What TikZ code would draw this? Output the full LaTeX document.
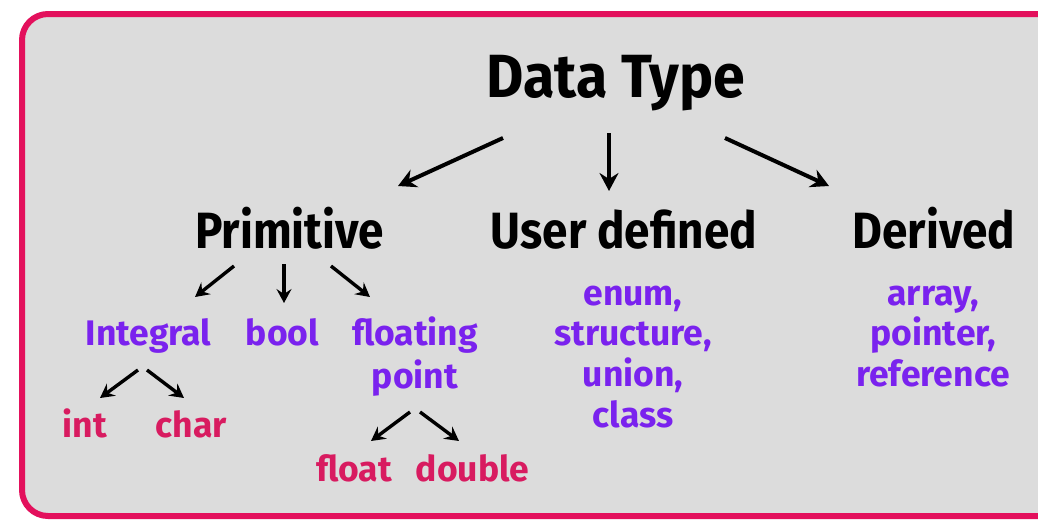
\documentclass[tikz,border=0pt]{standalone}
\usepackage{fontspec}
\setmainfont{Fira Sans}
\newfontfamily\titlefam[FakeStretch=0.94]{Fira Sans}
\newfontfamily\catfam[FakeStretch=0.9]{Fira Sans}
\usetikzlibrary{arrows.meta}
\definecolor{frame}{HTML}{E3105C}
\definecolor{bg}{HTML}{DCDCDC}
\definecolor{vio}{HTML}{7A22EE}
\definecolor{pinkt}{HTML}{D81B60}
\tikzset{
  title/.style={font=\titlefam\fontsize{61}{61}\selectfont\bfseries, text=black, inner sep=0pt, anchor=base},
  cat/.style={font=\catfam\fontsize{51}{51}\selectfont\bfseries, text=black, inner sep=0pt, anchor=base},
  sub/.style={font=\fontsize{35.5}{35.5}\selectfont\bfseries, text=vio, inner sep=0pt, anchor=base},
  leaf/.style={font=\fontsize{35.5}{35.5}\selectfont\bfseries, text=pinkt, inner sep=0pt, anchor=base},
  bigarrow/.style={line width=4pt, -{Stealth[length=18pt,width=19pt,inset=6pt]}},
  smallarrow/.style={line width=3.4pt, -{Stealth[length=14pt,width=15pt,inset=5pt]}}
}
\begin{document}
\begin{tikzpicture}[x=1pt,y=-1pt]
\useasboundingbox (0,0) rectangle (1038,522);
\fill[white] (0,0) rectangle (1038,522);
\draw[frame, fill=bg, line width=6pt, rounded corners=26pt] (22,14) rectangle (1070,516);
% texts
\node[title] (dt) at (616,97) {Data Type};
\node[cat] (prim) at (289.5,248) {Primitive};
\node[cat] (user) at (624,248) {User defined};
\node[cat] (der) at (934,248) {Derived};
\node[sub] (integ) at (148.5,345) {Integral};
\node[sub] (bool) at (282.5,345) {bool};
\node[sub] (flt1) at (415,345) {floating};
\node[sub] (flt2) at (415,388) {point};
\node[leaf] (int) at (85,437) {int};
\node[leaf] (char) at (191.5,437) {char};
\node[leaf] (float) at (354,481) {float};
\node[leaf] (double) at (472.5,481) {double};
\node[sub] (u1) at (633,305) {enum,};
\node[sub] (u2) at (633,345.5) {structure,};
\node[sub] (u3) at (633,386) {union,};
\node[sub] (u4) at (633,427) {class};
\node[sub] (d1) at (933,305) {array,};
\node[sub] (d2) at (933,345.5) {pointer,};
\node[sub] (d3) at (933,386) {reference};
% arrow end points
\coordinate (a1s) at (503,138); \coordinate (a1e) at (398,186);
\coordinate (a2s) at (609,133); \coordinate (a2e) at (609,191);
\coordinate (a3s) at (725,138); \coordinate (a3e) at (829,186);
\coordinate (b1s) at (234,266); \coordinate (b1e) at (195,297);
\coordinate (b2s) at (284,264); \coordinate (b2e) at (284,303);
\coordinate (b3s) at (331,266); \coordinate (b3e) at (370,297);
\coordinate (c1s) at (138,370); \coordinate (c1e) at (100,398);
\coordinate (c2s) at (147,370); \coordinate (c2e) at (184,398);
\coordinate (d1s) at (410,412); \coordinate (d1e) at (371,441);
\coordinate (d2s) at (420,412); \coordinate (d2e) at (459,441);
\draw[bigarrow] (a1s) -- (a1e);
\draw[bigarrow] (a2s) -- (a2e);
\draw[bigarrow] (a3s) -- (a3e);
\draw[smallarrow] (b1s) -- (b1e);
\draw[smallarrow] (b2s) -- (b2e);
\draw[smallarrow] (b3s) -- (b3e);
\draw[smallarrow] (c1s) -- (c1e);
\draw[smallarrow] (c2s) -- (c2e);
\draw[smallarrow] (d1s) -- (d1e);
\draw[smallarrow] (d2s) -- (d2e);
\end{tikzpicture}
\end{document}
